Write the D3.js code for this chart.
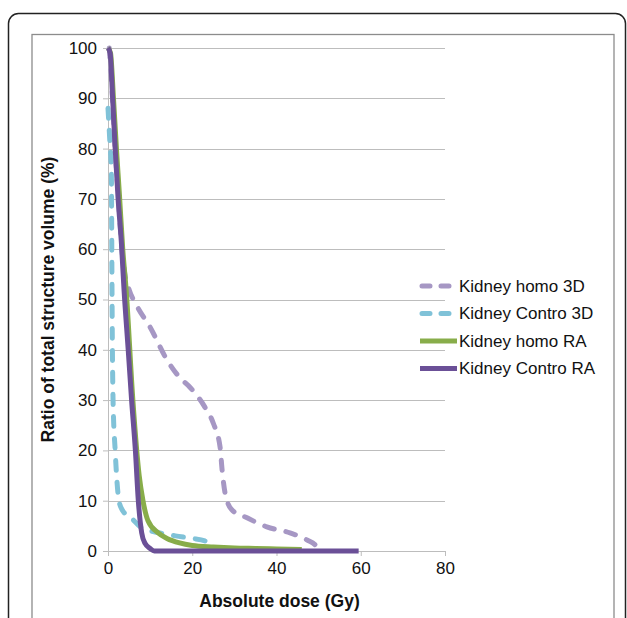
<!DOCTYPE html>
<html>
<head>
<meta charset="utf-8">
<script src="https://cdn.jsdelivr.net/npm/d3@7"></script>
<style>
  html, body { margin: 0; padding: 0; background: #fff; }
  svg { display: block; font-family: "Liberation Sans", Arial, sans-serif; }
</style>
</head>
<body>
<div id="chart"></div>
<script>
// Series data (dose in Gy, volume in %)
const homo3DDose = [0.3, 1.0, 1.7, 2.5, 3.2, 4.0, 5, 7, 10, 14, 17, 19.5, 23, 25, 26.6, 27.1, 27.8, 29.4, 33, 37.7, 43.2, 47.2, 49.6, 50];
const homo3DVol  = [100, 91, 80, 70, 61, 55, 52, 48.5, 44.5, 38, 34.5, 32.5, 28.6, 25.4, 20.7, 16, 11.5, 8.2, 6.6, 4.8, 3.6, 2.2, 0.8, 0];

const contro3DDose = [0, 0.4, 0.8, 0.9, 1.0, 1.2, 1.7, 2.6, 3.5, 5.6, 8, 12.3, 16, 20, 23, 25];
const contro3DVol  = [88, 82, 75, 60, 45, 30, 20, 10, 8, 6.5, 4.6, 3.6, 3.0, 2.5, 2.0, 1.2];

const homoRADose = [0, 0.6, 1.3, 2.0, 2.7, 3.5, 4.3, 5.9, 7.4, 8.3, 9.5, 11.9, 14, 17, 20, 25, 30, 35, 40, 46];
const homoRAVol  = [100, 99, 90, 80, 71, 60, 52, 30, 15, 10, 6, 3.6, 2.5, 1.6, 1.1, 0.8, 0.6, 0.5, 0.4, 0.3];

const controRADose = [0, 0.5, 1.1, 1.7, 2.4, 3.2, 3.8, 4.8, 5.6, 6.5, 7.2, 8.0, 8.8, 10, 11, 20, 40, 59.5];
const controRAVol  = [100, 99, 90, 80, 70, 61, 52, 40, 30, 20, 10, 3.6, 1.5, 0.5, 0, 0, 0, 0];

const seriesNames = ["Kidney homo 3D", "Kidney Contro 3D", "Kidney homo RA", "Kidney Contro RA"];
const seriesColors = ["#a697c4", "#80c2d8", "#88ad4a", "#6b5097"];
const seriesDashed = [true, true, false, false];

const xTicks = [0, 20, 40, 60, 80];
const yTicks = [0, 10, 20, 30, 40, 50, 60, 70, 80, 90, 100];

const series = [
  homo3DDose.map((d, i) => ({ x: d, y: homo3DVol[i] })),
  contro3DDose.map((d, i) => ({ x: d, y: contro3DVol[i] })),
  homoRADose.map((d, i) => ({ x: d, y: homoRAVol[i] })),
  controRADose.map((d, i) => ({ x: d, y: controRAVol[i] }))
];

const W = 627, H = 618;
const plot = { left: 108, right: 445, top: 48, bottom: 551 };

const svg = d3.select("#chart").append("svg").attr("width", W).attr("height", H);

// outer frame
svg.append("rect").attr("x", 8.5).attr("y", 13.5).attr("width", 617).attr("height", 640)
  .attr("rx", 10).attr("fill", "none").attr("stroke", "#222").attr("stroke-width", 1.5);
// chart area border
svg.append("rect").attr("x", 32).attr("y", 34.5).attr("width", 582).attr("height", 620)
  .attr("fill", "none").attr("stroke", "#8c8c8c").attr("stroke-width", 1.3);

const x = d3.scaleLinear().domain([0, 80]).range([plot.left, plot.right]);
const y = d3.scaleLinear().domain([0, 100]).range([plot.bottom, plot.top]);

// gridlines
svg.append("g").selectAll("line").data(yTicks.filter(t => t > 0)).enter().append("line")
  .attr("x1", plot.left).attr("x2", plot.right)
  .attr("y1", d => Math.round(y(d)) + 0.5).attr("y2", d => Math.round(y(d)) + 0.5)
  .attr("stroke", "#bdbdbd").attr("stroke-width", 1);

// y axis
const yAxis = svg.append("g").attr("transform", `translate(${plot.left},0)`)
  .call(d3.axisLeft(y).tickValues(yTicks).tickSize(5).tickPadding(6));
yAxis.select(".domain").attr("stroke", "#bdbdbd");
yAxis.selectAll(".tick line").attr("stroke", "#bdbdbd");
yAxis.selectAll("text").attr("font-size", 17).attr("fill", "#111").attr("font-family", "Liberation Sans, Arial, sans-serif");

// x axis
const xAxis = svg.append("g").attr("transform", `translate(0,${plot.bottom})`)
  .call(d3.axisBottom(x).tickValues(xTicks).tickSize(5).tickPadding(6));
xAxis.select(".domain").attr("stroke", "#bdbdbd");
xAxis.selectAll(".tick line").attr("stroke", "#bdbdbd");
xAxis.selectAll("text").attr("font-size", 17).attr("fill", "#111").attr("font-family", "Liberation Sans, Arial, sans-serif");

// lines
const line = d3.line().x(d => x(d.x)).y(d => y(d.y)).curve(d3.curveMonotoneX);
series.forEach((s, i) => {
  svg.append("path").datum(s)
    .attr("fill", "none")
    .attr("stroke", seriesColors[i])
    .attr("stroke-width", 5)
    .attr("stroke-linecap", seriesDashed[i] ? "round" : "butt")
    .attr("stroke-linejoin", "round")
    .attr("stroke-dasharray", seriesDashed[i] ? "10,12" : null)
    .attr("d", line);
});

// axis titles
svg.append("text").attr("x", (plot.left + plot.right) / 2 + 3).attr("y", 607)
  .attr("text-anchor", "middle").attr("font-size", 17.5).attr("font-weight", "bold").attr("fill", "#111")
  .text("Absolute dose (Gy)");
svg.append("text").attr("transform", `translate(54,${(plot.top + plot.bottom) / 2}) rotate(-90)`)
  .attr("text-anchor", "middle").attr("font-size", 17.5).attr("font-weight", "bold").attr("fill", "#111")
  .text("Ratio of total structure volume (%)");

// legend
const legend = svg.append("g");
seriesNames.forEach((name, i) => {
  const ly = 286 + i * 27.5;
  legend.append("line").attr("x1", i < 2 ? 422 : 420).attr("x2", 457).attr("y1", ly).attr("y2", ly)
    .attr("stroke", seriesColors[i]).attr("stroke-width", 5)
    .attr("stroke-linecap", seriesDashed[i] ? "round" : "butt")
    .attr("stroke-dasharray", seriesDashed[i] ? "8,11" : null);
  legend.append("text").attr("x", 459).attr("y", ly).attr("dy", "0.35em")
    .attr("font-size", 17).attr("fill", "#111").text(name);
});
</script>
</body>
</html>
